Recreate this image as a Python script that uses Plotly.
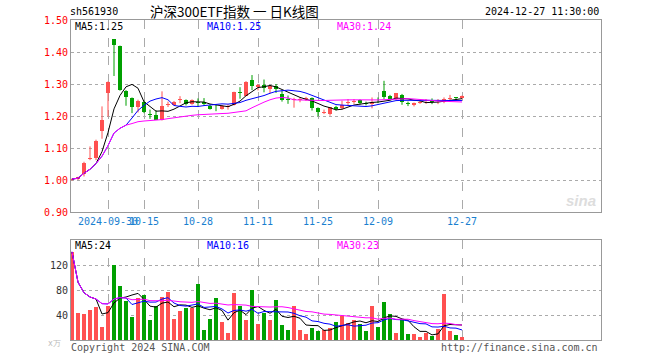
import plotly.graph_objects as go
import numpy as np
import pandas as pd

dates = ["2024-09-20","2024-09-23","2024-09-24","2024-09-25","2024-09-26","2024-09-27","2024-09-30",
         "2024-10-08","2024-10-09","2024-10-10","2024-10-11","2024-10-14","2024-10-15","2024-10-16",
         "2024-10-17","2024-10-18","2024-10-21","2024-10-22","2024-10-23","2024-10-24","2024-10-25",
         "2024-10-28","2024-10-29","2024-10-30","2024-10-31","2024-11-01","2024-11-04","2024-11-05",
         "2024-11-06","2024-11-07","2024-11-08","2024-11-11","2024-11-12","2024-11-13","2024-11-14",
         "2024-11-15","2024-11-18","2024-11-19","2024-11-20","2024-11-21","2024-11-22","2024-11-25",
         "2024-11-26","2024-11-27","2024-11-28","2024-11-29","2024-12-02","2024-12-03","2024-12-04",
         "2024-12-05","2024-12-06","2024-12-09","2024-12-10","2024-12-11","2024-12-12","2024-12-13",
         "2024-12-16","2024-12-17","2024-12-18","2024-12-19","2024-12-20","2024-12-23","2024-12-24",
         "2024-12-25","2024-12-26","2024-12-27"]

open_ = [1.000,1.004,1.019,1.066,1.069,1.152,1.271,1.440,1.420,1.279,1.256,1.227,1.243,1.205,1.204,1.189,
         1.235,1.235,1.250,1.249,1.237,1.243,1.245,1.232,1.226,1.222,1.228,1.235,1.276,1.264,1.314,1.290,
         1.298,1.284,1.293,1.269,1.252,1.250,1.251,1.253,1.255,1.224,1.210,1.206,1.229,1.224,1.241,1.244,
         1.250,1.240,1.236,1.251,1.279,1.261,1.253,1.266,1.240,1.233,1.242,1.243,1.247,1.243,1.245,1.254,
         1.259,1.256]
high = [1.005,1.010,1.057,1.105,1.126,1.230,1.308,1.440,1.420,1.281,1.258,1.251,1.248,1.220,1.218,1.277,
        1.245,1.247,1.262,1.252,1.252,1.255,1.256,1.236,1.236,1.234,1.236,1.276,1.290,1.309,1.328,1.300,
        1.314,1.295,1.300,1.280,1.264,1.257,1.258,1.260,1.258,1.227,1.220,1.228,1.232,1.248,1.253,1.253,
        1.252,1.245,1.258,1.258,1.310,1.266,1.272,1.269,1.245,1.242,1.248,1.253,1.255,1.253,1.258,1.266,
        1.259,1.264]
low = [0.998,1.000,1.011,1.062,1.062,1.129,1.198,1.325,1.279,1.232,1.209,1.211,1.209,1.191,1.188,1.186,
       1.228,1.233,1.240,1.233,1.235,1.228,1.232,1.220,1.215,1.220,1.220,1.233,1.254,1.262,1.281,1.280,
       1.274,1.271,1.272,1.245,1.238,1.226,1.243,1.247,1.217,1.199,1.206,1.201,1.217,1.220,1.232,1.238,
       1.236,1.233,1.224,1.240,1.253,1.250,1.250,1.235,1.231,1.230,1.238,1.238,1.237,1.237,1.240,1.249,
       1.249,1.254]
close = [1.003,1.008,1.053,1.070,1.123,1.189,1.306,1.423,1.280,1.258,1.227,1.246,1.211,1.202,1.189,1.232,
         1.239,1.245,1.253,1.237,1.249,1.241,1.238,1.222,1.224,1.232,1.230,1.274,1.273,1.307,1.293,1.298,
         1.286,1.293,1.285,1.250,1.250,1.253,1.253,1.255,1.224,1.211,1.212,1.227,1.222,1.234,1.243,1.246,
         1.240,1.238,1.245,1.249,1.260,1.254,1.272,1.243,1.238,1.240,1.244,1.244,1.245,1.245,1.253,1.256,
         1.255,1.262]
volume = [141,44,42,48,53,21,55,120,86,62,37,68,72,32,54,69,77,34,47,52,51,89,16,34,68,29,12,75,55,32,
          80,26,44,32,64,24,16,54,16,10,20,15,16,19,29,38,27,32,26,15,54,21,61,42,11,34,10,9,5,11,
          6,18,74,15,8,5]

tick_dates = ["2024-09-30","2024-10-15","2024-10-28","2024-11-11","2024-11-25","2024-12-09","2024-12-27"]
tick_labels = ["2024-09-30","10-15","10-28","11-11","11-25","12-09","12-27"]
price_ticks = [0.90,1.00,1.10,1.20,1.30,1.40,1.50]
vol_ticks = [40,80,120]

RED = "#ff5050"
GREEN = "#00a000"
W, H = 660, 360
def px(x): return x / W
def py(y): return 1 - y / H

n = len(dates)
idx = np.arange(n)
o = np.array(open_); c = np.array(close); h = np.array(high); l = np.array(low)
up = c >= o
cs = pd.Series(close); vs = pd.Series(volume, dtype=float)
ma5 = cs.rolling(5, min_periods=1).mean()
ma10 = cs.rolling(10, min_periods=1).mean()
ma30 = cs.rolling(30, min_periods=1).mean()
vma5 = vs.rolling(5, min_periods=1).mean()
vma10 = vs.rolling(10, min_periods=1).mean()
vma30 = vs.rolling(30, min_periods=1).mean()

fig = go.Figure()

def wick_trace(mask, color):
    xs, ys = [], []
    for i in idx[mask]:
        xs += [i, i, None]
        ys += [l[i], h[i], None]
    return go.Scatter(x=xs, y=ys, mode="lines", line=dict(color=color, width=1),
                      hoverinfo="skip", showlegend=False, xaxis="x", yaxis="y")

def body_trace(mask, color):
    bodies = np.maximum(np.abs(c - o), 0.0018)
    base = np.minimum(o, c)
    return go.Bar(x=idx[mask], y=bodies[mask], base=base[mask], width=0.78,
                  marker=dict(color=color, line=dict(width=0)), showlegend=False,
                  xaxis="x", yaxis="y")

fig.add_trace(wick_trace(up, RED))
fig.add_trace(wick_trace(~up, GREEN))
fig.add_trace(body_trace(up, RED))
fig.add_trace(body_trace(~up, GREEN))
for s, col in [(ma5, "#000000"), (ma10, "#0000ff"), (ma30, "#ff00ff")]:
    fig.add_trace(go.Scatter(x=idx, y=s, mode="lines", line=dict(color=col, width=1),
                             showlegend=False, xaxis="x", yaxis="y"))

vol = np.array(volume)
fig.add_trace(go.Bar(x=idx[up], y=vol[up], width=0.8, marker=dict(color=RED, line=dict(width=0)),
                     showlegend=False, xaxis="x2", yaxis="y2"))
fig.add_trace(go.Bar(x=idx[~up], y=vol[~up], width=0.8, marker=dict(color=GREEN, line=dict(width=0)),
                     showlegend=False, xaxis="x2", yaxis="y2"))
for s, col in [(vma5, "#000000"), (vma10, "#0000ff"), (vma30, "#ff00ff")]:
    fig.add_trace(go.Scatter(x=idx, y=s, mode="lines", line=dict(color=col, width=1),
                             showlegend=False, xaxis="x2", yaxis="y2"))

tickpos = [dates.index(d) for d in tick_dates]
MONO = "DejaVu Sans Mono"
xdom = [px(71), px(601)]
xr = [-1/6, 529/6]
common_x = dict(domain=xdom, range=xr, tickvals=tickpos, showgrid=True, griddash="dash",
                gridcolor="#aaaaaa", gridwidth=1, showline=True, mirror=True, linecolor="#999999",
                linewidth=1, zeroline=False, ticks="", automargin=False, tickangle=0)
common_y = dict(showgrid=True, griddash="dot", gridcolor="#aaaaaa", showline=True, mirror=True,
                linecolor="#999999", linewidth=1, zeroline=False, ticks="", automargin=False)
fig.update_layout(
    width=W, height=H, margin=dict(l=0, r=0, t=0, b=0, autoexpand=False),
    paper_bgcolor="white", plot_bgcolor="white", barmode="overlay", bargap=0,
    showlegend=False, hovermode=False,
    xaxis=dict(**common_x, anchor="y", ticktext=tick_labels,
               tickfont=dict(family=MONO, size=10, color="#1a7fd0")),
    xaxis2=dict(**common_x, anchor="y2", matches="x", showticklabels=False),
    yaxis=dict(**common_y, domain=[py(212), py(20)], range=[0.9, 1.5], tickvals=price_ticks,
               ticktext=[f"{v:.2f}" for v in price_ticks],
               tickfont=dict(family=MONO, size=10, color="#ff0000"), anchor="x"),
    yaxis2=dict(**common_y, domain=[py(340), py(240)], range=[0, 160], tickvals=vol_ticks,
                ticktext=[str(v) for v in vol_ticks],
                tickfont=dict(family=MONO, size=10, color="#333333"), anchor="x2"),
)

def ann(text, x, y, color="#000000", size=10, family=MONO, xanchor="left", **kw):
    fig.add_annotation(text=text, x=px(x), y=py(y), xref="paper", yref="paper",
                       xanchor=xanchor, yanchor="middle", showarrow=False,
                       font=dict(family=family, size=size, color=color), **kw)

ann("sh561930", 68, 12)
ann("沪深300ETF指数 一 日K线图", 234, 11, size=13.5, family="Noto Sans CJK SC", xanchor="center")
ann("2024-12-27 11:30:00", 601, 12, xanchor="right")
ann(f"MA5:{ma5.iloc[-1]:.2f}", 73, 27)
ann(f"MA10:{ma10.iloc[-1]:.2f}", 205, 27, color="#0000ff")
ann(f"MA30:{ma30.iloc[-1]:.2f}", 335, 27, color="#ff00ff")
ann(f"MA5:{int(vma5.iloc[-1])}", 73, 245)
ann(f"MA10:{int(vma10.iloc[-1])}", 205, 245, color="#0000ff")
ann(f"MA30:{int(vma30.iloc[-1])}", 335, 245, color="#ff00ff")
ann("Copyright 2024 SINA.COM", 69, 347, color="#555555")
ann("http://finance.sina.com.cn", 600, 347, color="#555555", xanchor="right")
ann("x万", 63, 343, color="#bbbbbb", size=8, xanchor="right")
ann("<b><i>sina</i></b>", 598, 200, color="#dddddd", size=15, family="Liberation Sans", xanchor="right")

fig.write_html("out.html", config={"displayModeBar": False, "staticPlot": True},
               post_script="document.body.style.margin='0';document.body.style.overflow='hidden';")
